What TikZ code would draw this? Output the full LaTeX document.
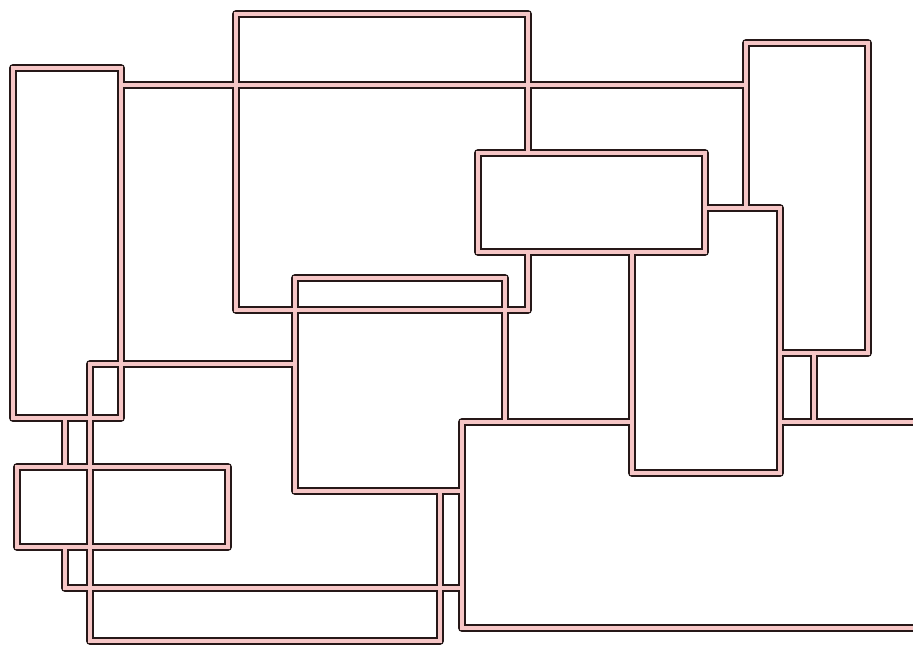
\documentclass[tikz,border=0pt]{standalone}
\begin{document}
\begin{tikzpicture}[x=1pt,y=-1pt,
  outerline/.style={draw=darkedge,line width=7.6pt,line join=round,line cap=butt},
  innerline/.style={draw=pinkcore,line width=3.4pt,line join=miter,line cap=butt}]
\definecolor{darkedge}{RGB}{38,24,24}
\definecolor{pinkcore}{RGB}{246,198,198}
\useasboundingbox (0,0) rectangle (913,647);
\clip (0,0) rectangle (913,647);
\fill[white] (0,0) rectangle (913,647);
\def\network{
  (13,68) rectangle (121,418)
  (528,153) -- (528,14) -- (236,14) -- (236,310) -- (528,310) -- (528,252)
  (121,85) -- (746,85)
  (478,153) rectangle (705,252)
  (746,208) -- (746,43) -- (868,43) -- (868,353) -- (780,353)
  (705,208) -- (780,208) -- (780,473) -- (632,473) -- (632,252)
  (814,353) -- (814,422)
  (505,422) -- (505,278) -- (295,278) -- (295,491) -- (462,491)
  (295,364) -- (90,364) -- (90,641) -- (440,641) -- (440,491)
  (65,418) -- (65,467)
  (65,547) -- (65,588) -- (462,588)
  (17,467) rectangle (228,547)
  (632,422) -- (462,422) -- (462,628) -- (930,628)
  (780,422) -- (930,422)
}
\draw[outerline] \network;
\draw[innerline] \network;
\end{tikzpicture}
\end{document}
